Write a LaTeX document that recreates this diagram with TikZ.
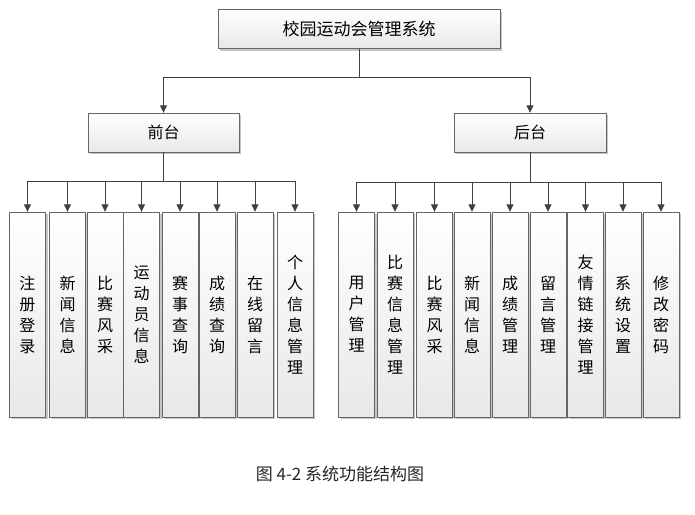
\documentclass[tikz,border=0pt]{standalone}
\usepackage{fontspec}
\setmainfont{Noto Sans CJK SC}
\usetikzlibrary{arrows.meta,shadows}

\tikzset{
  box/.style={draw=black!60, top color=white, bottom color=black!9,
    drop shadow={shadow xshift=2pt, shadow yshift=-2pt, fill=black!45},
    inner sep=0pt, text=black},
  hbox/.style={box, minimum height=39pt},
  vbox/.style={box, minimum width=36pt, minimum height=205pt, align=center},
  link/.style={draw=black!75, line width=0.9pt, -{Triangle[length=7.5pt,width=7pt]}},
}

\begin{document}
\begin{tikzpicture}[x=1pt,y=-1pt,font=\fontsize{16}{21}\selectfont]
        \useasboundingbox (0,0) rectangle (695,514);

        \node[hbox,minimum width=282pt,font=\fontsize{17}{21}\selectfont] (sys) at (359,29) {校园运动会管理系统};
        \node[hbox,minimum width=151pt] (qt) at (163.5,132.5) {前台};
        \node[hbox,minimum width=152pt] (ht) at (530,132.5) {后台};
        \draw[link] (sys.south) -- ++(0,29) -| (qt.north);
        \draw[link] (sys.south) -- ++(0,29) -| (ht.north);

        % 前台
        \foreach \x/\t [count=\i] in {27.5/注\\册\\登\\录, 67.5/新\\闻\\信\\息,
            105/比\\赛\\风\\采, 141.5/运\\动\\员\\信\\息, 180/赛\\事\\查\\询,
            217/成\\绩\\查\\询, 255/在\\线\\留\\言, 295/个\\人\\信\\息\\管\\理}
            {\node[vbox] (f\i) at (\x,314.5) {\t};
             \draw[link] (qt.south) -- ++(0,29) -| (f\i.north);}

        % 后台
        \foreach \x/\t [count=\i] in {356.5/用\\户\\管\\理, 395/比\\赛\\信\\息\\管\\理,
            434.5/比\\赛\\风\\采, 472/新\\闻\\信\\息, 510/成\\绩\\管\\理,
            548/留\\言\\管\\理, 585.5/友\\情\\链\\接\\管\\理, 623/系\\统\\设\\置,
            661/修\\改\\密\\码}
            {\node[vbox] (b\i) at (\x,314.5) {\t};
             \draw[link] (ht.south) -- ++(0,30) -| (b\i.north);}

        \node[text=black!85] (cap) at (340,474) {\fontsize{17}{20}\selectfont 图 4-2 系统功能结构图};
\end{tikzpicture}
\end{document}
